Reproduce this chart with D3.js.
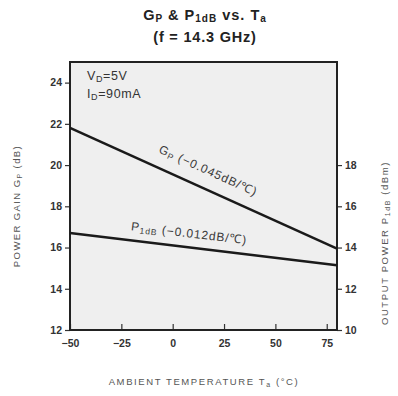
<!DOCTYPE html>
<html>
<head>
<meta charset="utf-8">
<script src="https://cdn.jsdelivr.net/npm/d3@7"></script>
<style>
  html, body { margin: 0; padding: 0; background: #fff; }
  svg { display: block; font-family: "Liberation Sans", Arial, sans-serif; }
</style>
</head>
<body>
<svg id="chart" width="398" height="396"></svg>
<script>
// ambient temperature (°C) at the two ends of each line
const temps = [-50, 80];
// power gain Gp (dB), left axis
const gain = [21.8, 15.95];
// output power P1dB (dBm), right axis
const p1db = [14.7, 13.14];

const xTicks = [-50, -25, 0, 25, 50, 75];
const leftTicks = [12, 14, 16, 18, 20, 22, 24];
const rightTicks = [10, 12, 14, 16, 18];

const svg = d3.select('#chart');
const m = { left: 70, right: 337, top: 62, bottom: 330 };

const x = d3.scaleLinear().domain([-50, 80]).range([m.left, m.right]);
const yL = d3.scaleLinear().domain([12, 25]).range([m.bottom, m.top]);
const yR = d3.scaleLinear().domain([10, 23]).range([m.bottom, m.top]);

// title
const title = svg.append('text')
  .attr('x', 205).attr('y', 20)
  .attr('text-anchor', 'middle')
  .attr('font-size', 14.5).attr('font-weight', 'bold').attr('fill', '#222')
  .attr('letter-spacing', 1);
title.append('tspan').text('G');
title.append('tspan').attr('font-size', 10).attr('dy', 2).text('P');
title.append('tspan').attr('dy', -2).text(' & P');
title.append('tspan').attr('font-size', 10).attr('dy', 2).text('1dB');
title.append('tspan').attr('dy', -2).text('  vs.  T');
title.append('tspan').attr('font-size', 10).attr('dy', 2).text('a');

svg.append('text')
  .attr('x', 205).attr('y', 42)
  .attr('text-anchor', 'middle')
  .attr('font-size', 14.5).attr('font-weight', 'bold').attr('fill', '#222')
  .attr('letter-spacing', 0.8)
  .text('(f = 14.3 GHz)');

// plot background
svg.append('rect')
  .attr('x', m.left).attr('y', m.top)
  .attr('width', m.right - m.left).attr('height', m.bottom - m.top)
  .attr('fill', '#efefef');

// axes
const tickFont = g => g.selectAll('text')
  .attr('font-size', 10.5).attr('font-weight', 'bold').attr('fill', '#333')
  .attr('font-family', '"Liberation Sans", Arial, sans-serif');

svg.append('g')
  .attr('transform', `translate(0,${m.bottom})`)
  .call(d3.axisBottom(x).tickValues(xTicks).tickSizeInner(-6).tickSizeOuter(0).tickPadding(10)
    .tickFormat(d => d < 0 ? '\u2212' + Math.abs(d) : d))
  .call(g => g.select('.domain').remove())
  .call(g => g.selectAll('line').attr('stroke', '#333').attr('stroke-width', 1.2))
  .call(tickFont);

svg.append('g')
  .attr('transform', `translate(${m.left},0)`)
  .call(d3.axisLeft(yL).tickValues(leftTicks).tickSize(5).tickPadding(3))
  .call(g => g.select('.domain').remove())
  .call(g => g.selectAll('line').attr('stroke', '#333').attr('stroke-width', 1.2))
  .call(tickFont);

svg.append('g')
  .attr('transform', `translate(${m.right},0)`)
  .call(d3.axisRight(yR).tickValues(rightTicks).tickSize(5).tickPadding(3))
  .call(g => g.select('.domain').remove())
  .call(g => g.selectAll('line').attr('stroke', '#333').attr('stroke-width', 1.2))
  .call(tickFont);

// frame
svg.append('rect')
  .attr('x', m.left).attr('y', m.top)
  .attr('width', m.right - m.left).attr('height', m.bottom - m.top)
  .attr('fill', 'none').attr('stroke', '#222').attr('stroke-width', 2);

// lines
const gainLine = d3.line().x((d, i) => x(temps[i])).y(d => yL(d));
const pLine = d3.line().x((d, i) => x(temps[i])).y(d => yR(d));

svg.append('path').datum(gain).attr('d', gainLine)
  .attr('fill', 'none').attr('stroke', '#1a1a1a').attr('stroke-width', 2.5);
svg.append('path').datum(p1db).attr('d', pLine)
  .attr('fill', 'none').attr('stroke', '#1a1a1a').attr('stroke-width', 2.5);

// line labels, rotated to follow each line
function lineLabel(xs, ys, yScale, tAt, offset, parts) {
  const x0 = x(xs[0]), y0 = yScale(ys[0]), x1 = x(xs[1]), y1 = yScale(ys[1]);
  const ang = Math.atan2(y1 - y0, x1 - x0) * 180 / Math.PI;
  const f = (tAt - xs[0]) / (xs[1] - xs[0]);
  const px = x0 + f * (x1 - x0), py = y0 + f * (y1 - y0);
  const t = svg.append('text')
    .attr('transform', `translate(${px},${py}) rotate(${ang}) translate(0,${-offset})`)
    .attr('font-size', 12).attr('fill', '#3a3a3a').attr('letter-spacing', 0.9);
  parts.forEach(p => {
    const s = t.append('tspan').text(p.t);
    if (p.sub) s.attr('font-size', 8.5).attr('dy', 2);
    if (p.up) s.attr('dy', -2);
  });
}

lineLabel(temps, gain, yL, -10, 14, [
  { t: 'G' }, { t: 'P', sub: true }, { t: ' (\u22120.045dB/\u2103)', up: true }
]);
lineLabel(temps, p1db, yR, -21, 10, [
  { t: 'P' }, { t: '1dB', sub: true }, { t: ' (\u22120.012dB/\u2103)', up: true }
]);

// bias conditions
const vd = svg.append('text').attr('x', 87).attr('y', 80)
  .attr('font-size', 12.5).attr('fill', '#333').attr('letter-spacing', 0.6);
vd.append('tspan').text('V');
vd.append('tspan').attr('font-size', 9).attr('dy', 2).text('D');
vd.append('tspan').attr('dy', -2).text('=5V');
const id = svg.append('text').attr('x', 87).attr('y', 98)
  .attr('font-size', 12.5).attr('fill', '#333').attr('letter-spacing', 0.6);
id.append('tspan').text('I');
id.append('tspan').attr('font-size', 9).attr('dy', 2).text('D');
id.append('tspan').attr('dy', -2).text('=90mA');

// axis titles
const lt = svg.append('text')
  .attr('transform', 'translate(20,206) rotate(-90)')
  .attr('text-anchor', 'middle').attr('font-size', 9.5).attr('fill', '#555')
  .attr('letter-spacing', 1.4);
lt.append('tspan').text('POWER GAIN  G');
lt.append('tspan').attr('font-size', 7).attr('dy', 1.5).text('P');
lt.append('tspan').attr('dy', -1.5).text('  (dB)');

const rt = svg.append('text')
  .attr('transform', 'translate(388,243) rotate(-90)')
  .attr('text-anchor', 'middle').attr('font-size', 9.5).attr('fill', '#555')
  .attr('letter-spacing', 1.6);
rt.append('tspan').text('OUTPUT POWER  P');
rt.append('tspan').attr('font-size', 7).attr('dy', 1.5).text('1dB');
rt.append('tspan').attr('dy', -1.5).text('  (dBm)');

const bt = svg.append('text')
  .attr('x', 204).attr('y', 385)
  .attr('text-anchor', 'middle').attr('font-size', 9.5).attr('fill', '#555')
  .attr('letter-spacing', 1.6);
bt.append('tspan').text('AMBIENT TEMPERATURE  T');
bt.append('tspan').attr('font-size', 7).attr('dy', 1.5).text('a');
bt.append('tspan').attr('dy', -1.5).text('  (\u00B0C)');
</script>
</body>
</html>
